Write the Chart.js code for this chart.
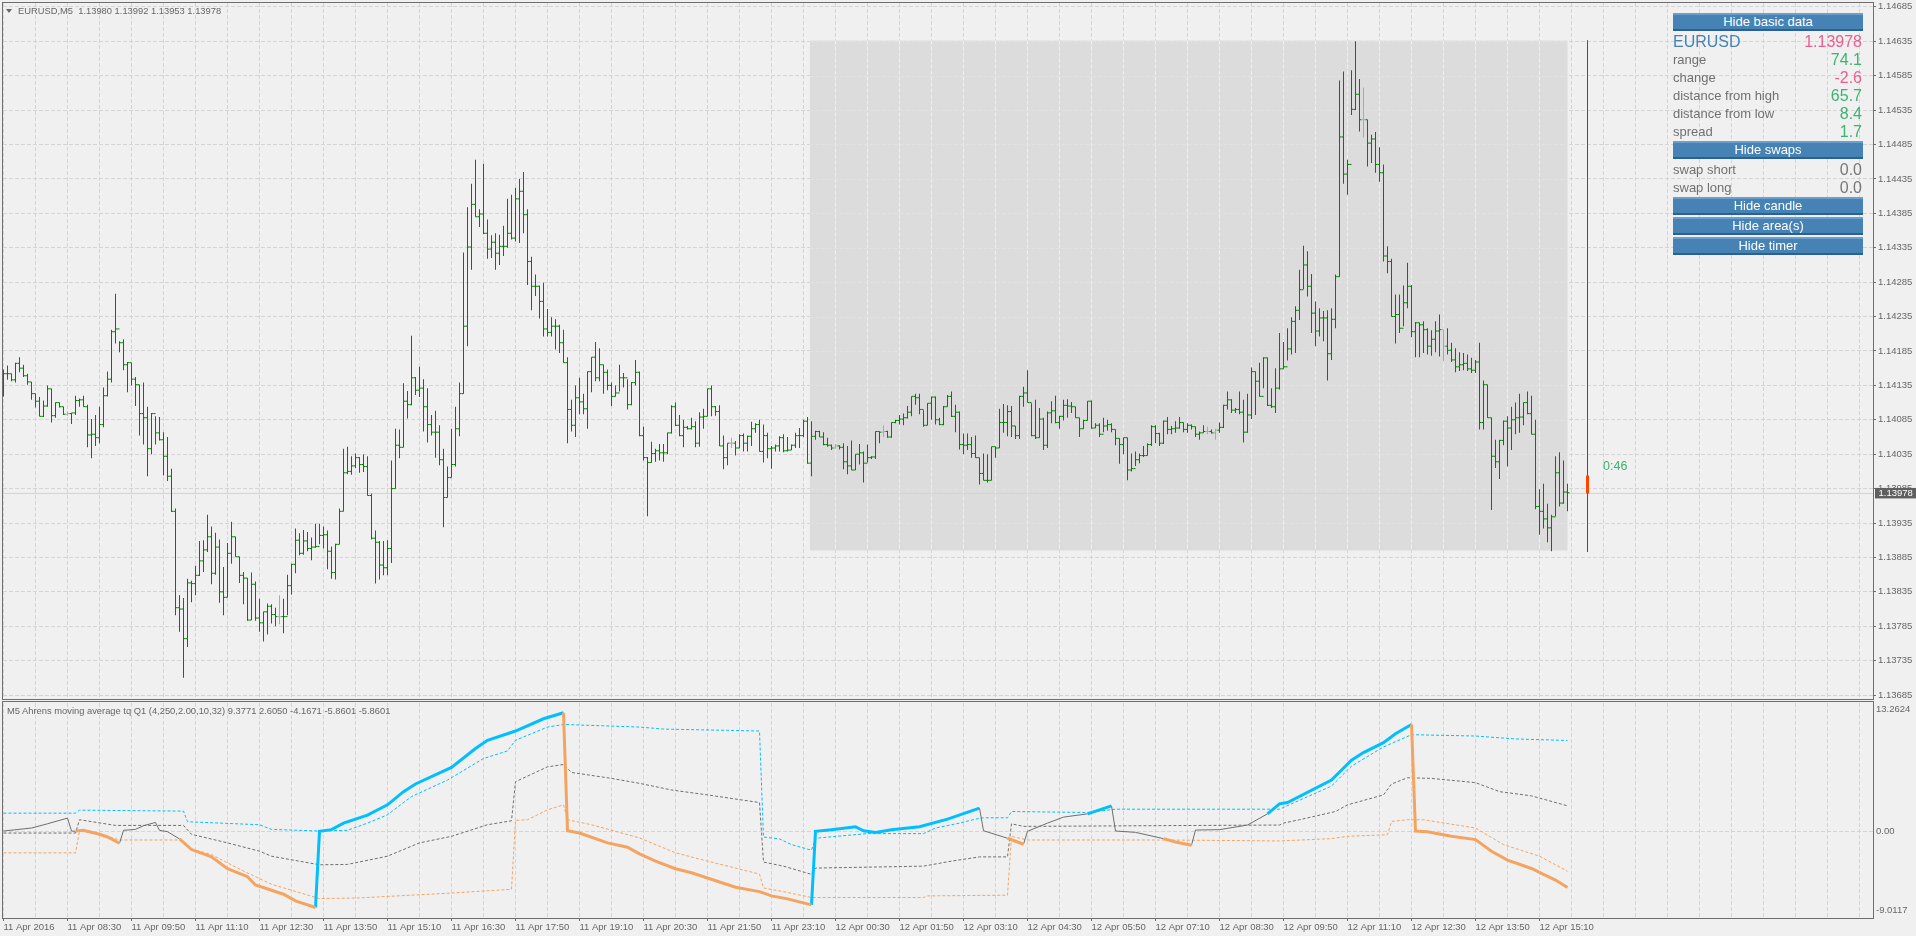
<!DOCTYPE html>
<html>
<head>
<meta charset="utf-8">
<title>EURUSD,M5</title>
<script src="https://cdn.jsdelivr.net/npm/chart.js@4"></script>
<style>
    html, body { margin: 0; padding: 0; width: 1916px; height: 936px; overflow: hidden; background: #f0f0f0; font-family: "Liberation Sans", Arial, sans-serif; }
    canvas { position: absolute; left: 0; }
    #priceCanvas { top: 0; }
    #indicatorCanvas { top: 700px; }
    .frame { position: absolute; left: 2px; width: 1872px; box-sizing: border-box; border: 1px solid #6e6e6e; }
    .title { position: absolute; font-size: 9.35px; line-height: 12px; color: #666; white-space: pre; }
    .arrow { position: absolute; left: 6px; top: 9px; width: 0; height: 0; border-left: 3.5px solid transparent; border-right: 3.5px solid transparent; border-top: 4px solid #666; }
    .btn { position: absolute; left: 1673px; width: 190px; height: 18px; box-sizing: border-box; background: #4682b4; border-top: 2px solid #6a9fd0; border-bottom: 2px solid #2a6096; color: #fff; font-size: 13px; line-height: 14px; text-align: center; }
    .row { position: absolute; left: 1673px; width: 189px; height: 18px; line-height: 18px; color: #707070; font-size: 13px; }
    .row b { position: absolute; right: 0; top: 0; font-weight: normal; font-size: 16px; }
    .up { color: #3cb371; }
    .down { color: #e8608c; }
    .flat { color: #777; }
    #timer { position: absolute; left: 1603px; top: 459px; font-size: 12.5px; line-height: 14px; color: #3cb371; }
</style>
</head>
<body>
<div class="frame" style="top:2px;height:698px"></div>
<div class="frame" style="top:701px;height:218px"></div>
<canvas id="priceCanvas" width="1916" height="700"></canvas>
<canvas id="indicatorCanvas" width="1916" height="236"></canvas>

<div class="arrow"></div>
<div class="title" style="left:18px;top:5px">EURUSD,M5  1.13980 1.13992 1.13953 1.13978</div>
<div class="title" style="left:7px;top:705px">M5 Ahrens moving average tq Q1 (4,250,2.00,10,32) 9.3771 2.6050 -4.1671 -5.8601 -5.8601</div>

<div class="btn" style="top:13px">Hide basic data</div>
<div class="row" style="top:33px;color:#4682b4;font-size:16px">EURUSD<b class="down">1.13978</b></div>
<div class="row" style="top:51px">range<b class="up">74.1</b></div>
<div class="row" style="top:69px">change<b class="down">-2.6</b></div>
<div class="row" style="top:87px">distance from high<b class="up">65.7</b></div>
<div class="row" style="top:105px">distance from low<b class="up">8.4</b></div>
<div class="row" style="top:123px">spread<b class="up">1.7</b></div>
<div class="btn" style="top:141px">Hide swaps</div>
<div class="row" style="top:161px">swap short<b class="flat">0.0</b></div>
<div class="row" style="top:179px">swap long<b class="flat">0.0</b></div>
<div class="btn" style="top:197px">Hide candle</div>
<div class="btn" style="top:217px">Hide area(s)</div>
<div class="btn" style="top:237px">Hide timer</div>
<div id="timer">0:46</div>

<script>
// 5 minute bars, oldest first
const highs = [
1.14158,1.14164,1.14152,1.14168,1.14176,1.14165,1.14152,1.14140,1.14123,1.14118,1.14113,1.14135,1.14130,1.14110,1.14110,1.14104,
1.14097,1.14095,1.14120,1.14116,1.14120,1.14107,1.14086,1.14092,1.14104,1.14132,1.14155,1.14216,1.14268,1.14199,1.14202,1.14169,
1.14168,1.14147,1.14136,1.14139,1.14104,1.14095,1.14090,1.14089,1.14067,1.14060,1.14014,1.13956,1.13830,1.13826,1.13854,1.13851,
1.13873,1.13909,1.13910,1.13947,1.13930,1.13921,1.13911,1.13871,1.13906,1.13937,1.13915,1.13886,1.13864,1.13855,1.13863,1.13850,
1.13825,1.13806,1.13818,1.13817,1.13812,1.13830,1.13825,1.13860,1.13876,1.13927,1.13920,1.13925,1.13922,1.13914,1.13934,1.13934,
1.13930,1.13924,1.13901,1.13905,1.13956,1.14043,1.14046,1.14032,1.14036,1.14031,1.14035,1.14032,1.13978,1.13924,1.13909,1.13909,
1.13910,1.14026,1.14072,1.14071,1.14138,1.14127,1.14207,1.14147,1.14162,1.14144,1.14131,1.14092,1.14098,1.14077,1.14043,1.14017,
1.14072,1.14104,1.14139,1.14328,1.14394,1.14428,1.14463,1.14391,1.14457,1.14376,1.14353,1.14356,1.14354,1.14367,1.14406,1.14412,
1.14422,1.14435,1.14445,1.14391,1.14322,1.14296,1.14280,1.14284,1.14246,1.14234,1.14231,1.14223,1.14216,1.14176,1.14114,1.14135,
1.14146,1.14123,1.14155,1.14176,1.14198,1.14189,1.14165,1.14158,1.14139,1.14135,1.14165,1.14153,1.14144,1.14140,1.14172,1.14155,
1.14075,1.14031,1.14053,1.14043,1.14050,1.14050,1.14066,1.14106,1.14110,1.14092,1.14085,1.14076,1.14088,1.14083,1.14096,1.14101,
1.14130,1.14135,1.14105,1.14106,1.14062,1.14051,1.14059,1.14054,1.14064,1.14065,1.14062,1.14082,1.14080,1.14085,1.14078,1.14066,
1.14047,1.14049,1.14061,1.14064,1.14060,1.14049,1.14066,1.14073,1.14085,1.14089,1.14083,1.14069,1.14069,1.14067,1.14059,1.14049,
1.14050,1.14048,1.14051,1.14047,1.14055,1.14035,1.14050,1.14039,1.14049,1.14032,1.14068,1.14068,1.14077,1.14069,1.14081,1.14085,
1.14092,1.14094,1.14105,1.14119,1.14123,1.14123,1.14099,1.14109,1.14119,1.14119,1.14088,1.14105,1.14121,1.14126,1.14107,1.14097,
1.14065,1.14065,1.14060,1.14062,1.14030,1.14036,1.14035,1.14046,1.14046,1.14101,1.14108,1.14106,1.14105,1.14076,1.14120,1.14133,
1.14157,1.14109,1.14114,1.14102,1.14088,1.14097,1.14112,1.14120,1.14091,1.14114,1.14115,1.14111,1.14104,1.14088,1.14085,1.14112,
1.14113,1.14080,1.14080,1.14088,1.14085,1.14080,1.14071,1.14058,1.14059,1.14059,1.14036,1.14039,1.14036,1.14047,1.14051,1.14077,
1.14077,1.14066,1.14084,1.14089,1.14076,1.14083,1.14089,1.14081,1.14080,1.14078,1.14075,1.14068,1.14077,1.14075,1.14071,1.14072,
1.14081,1.14107,1.14126,1.14115,1.14102,1.14126,1.14114,1.14123,1.14161,1.14155,1.14168,1.14176,1.14175,1.14131,1.14160,1.14211,
1.14198,1.14218,1.14234,1.14250,1.14303,1.14338,1.14330,1.14297,1.14257,1.14247,1.14243,1.14244,1.14247,1.14296,1.14578,1.14591,
1.14463,1.14593,1.14635,1.14580,1.14568,1.14521,1.14499,1.14503,1.14481,1.14456,1.14337,1.14319,1.14267,1.14267,1.14280,1.14313,
1.14281,1.14227,1.14226,1.14228,1.14218,1.14215,1.14228,1.14238,1.14216,1.14218,1.14197,1.14189,1.14183,1.14182,1.14180,1.14175,
1.14172,1.14197,1.14142,1.14136,1.14088,1.14056,1.14056,1.14084,1.14090,1.14104,1.14110,1.14123,1.14110,1.14126,1.14120,1.14085,
1.13984,1.13992,1.13963,1.13947,1.14032,1.14038,1.14026,1.13992];
const lows = [
1.14119,1.14143,1.14141,1.14139,1.14154,1.14147,1.14136,1.14114,1.14103,1.14090,1.14089,1.14104,1.14081,1.14088,1.14103,1.14092,
1.14091,1.14079,1.14092,1.14104,1.14104,1.14045,1.14029,1.14047,1.14051,1.14074,1.14119,1.14139,1.14196,1.14183,1.14157,1.14125,
1.14135,1.14105,1.14062,1.14049,1.14003,1.14035,1.14049,1.14055,1.14004,1.13996,1.13951,1.13801,1.13777,1.13710,1.13755,1.13820,
1.13830,1.13858,1.13864,1.13893,1.13846,1.13860,1.13819,1.13801,1.13827,1.13876,1.13886,1.13848,1.13817,1.13793,1.13794,1.13793,
1.13777,1.13763,1.13773,1.13789,1.13785,1.13788,1.13775,1.13801,1.13831,1.13862,1.13888,1.13889,1.13894,1.13881,1.13899,1.13904,
1.13898,1.13868,1.13854,1.13853,1.13904,1.13952,1.14006,1.14005,1.14015,1.14008,1.14009,1.13975,1.13911,1.13847,1.13853,1.13859,
1.13859,1.13877,1.13985,1.14029,1.14045,1.14087,1.14106,1.14121,1.14118,1.14068,1.14052,1.14062,1.14030,1.14019,1.13929,1.13972,
1.14001,1.14017,1.14061,1.14123,1.14192,1.14303,1.14380,1.14365,1.14355,1.14319,1.14320,1.14303,1.14310,1.14323,1.14335,1.14347,
1.14344,1.14342,1.14356,1.14281,1.14244,1.14265,1.14232,1.14206,1.14206,1.14206,1.14187,1.14182,1.14168,1.14051,1.14068,1.14060,
1.14093,1.14093,1.14072,1.14125,1.14141,1.14141,1.14123,1.14128,1.14105,1.14119,1.14126,1.14132,1.14100,1.14106,1.14135,1.14061,
1.14026,1.13945,1.14023,1.14024,1.14026,1.14024,1.14035,1.14065,1.14076,1.14061,1.14045,1.14071,1.14071,1.14045,1.14046,1.14072,
1.14090,1.14090,1.14091,1.14047,1.14013,1.14019,1.14044,1.14033,1.14044,1.14039,1.14039,1.14047,1.14066,1.14039,1.14023,1.14029,
1.14014,1.14039,1.14039,1.14038,1.14039,1.14041,1.14044,1.14044,1.14060,1.14021,1.14003,1.14056,1.14060,1.14048,1.14046,1.14041,
1.14043,1.14042,1.14013,1.14006,1.14012,1.14012,1.14020,1.13994,1.14023,1.14028,1.14028,1.14051,1.14060,1.14059,1.14059,1.14080,
1.14078,1.14077,1.14087,1.14090,1.14107,1.14093,1.14075,1.14077,1.14085,1.14078,1.14077,1.14077,1.14104,1.14089,1.14067,1.14042,
1.14035,1.14041,1.14030,1.14030,1.13991,1.13997,1.13994,1.13997,1.14030,1.14044,1.14066,1.14061,1.14060,1.14057,1.14057,1.14104,
1.14110,1.14061,1.14057,1.14059,1.14041,1.14044,1.14080,1.14080,1.14072,1.14084,1.14088,1.14095,1.14088,1.14060,1.14072,1.14084,
1.14072,1.14073,1.14060,1.14067,1.14069,1.14067,1.14048,1.14021,1.14035,1.13997,1.14010,1.14018,1.14022,1.14031,1.14033,1.14047,
1.14051,1.14047,1.14050,1.14064,1.14064,1.14066,1.14072,1.14067,1.14066,1.14071,1.14060,1.14056,1.14066,1.14064,1.14065,1.14056,
1.14066,1.14073,1.14100,1.14095,1.14095,1.14093,1.14052,1.14066,1.14086,1.14092,1.14119,1.14131,1.14105,1.14102,1.14095,1.14129,
1.14159,1.14171,1.14180,1.14182,1.14230,1.14275,1.14264,1.14211,1.14192,1.14206,1.14199,1.14142,1.14172,1.14218,1.14293,1.14428,
1.14412,1.14528,1.14535,1.14504,1.14495,1.14453,1.14458,1.14444,1.14431,1.14315,1.14298,1.14235,1.14196,1.14211,1.14221,1.14247,
1.14205,1.14176,1.14176,1.14182,1.14180,1.14178,1.14183,1.14177,1.14170,1.14180,1.14169,1.14154,1.14156,1.14157,1.14156,1.14153,
1.14153,1.14071,1.14071,1.14088,1.13954,1.14015,1.13999,1.14048,1.14017,1.14041,1.14064,1.14066,1.14077,1.14093,1.14064,1.13955,
1.13918,1.13927,1.13907,1.13894,1.13945,1.13959,1.13963,1.13952];
const closes = [
1.14152,1.14152,1.14143,1.14167,1.14160,1.14149,1.14140,1.14123,1.14112,1.14090,1.14105,1.14130,1.14091,1.14110,1.14104,1.14093,
1.14094,1.14095,1.14113,1.14114,1.14104,1.14063,1.14064,1.14059,1.14078,1.14120,1.14144,1.14213,1.14217,1.14197,1.14165,1.14168,
1.14144,1.14136,1.14094,1.14088,1.14043,1.14094,1.14066,1.14056,1.14032,1.14003,1.13952,1.13812,1.13810,1.13767,1.13848,1.13847,
1.13859,1.13880,1.13896,1.13915,1.13862,1.13900,1.13835,1.13827,1.13891,1.13915,1.13886,1.13859,1.13855,1.13794,1.13846,1.13797,
1.13790,1.13806,1.13814,1.13802,1.13799,1.13799,1.13799,1.13844,1.13875,1.13910,1.13891,1.13909,1.13898,1.13900,1.13901,1.13917,
1.13918,1.13894,1.13863,1.13904,1.13952,1.14008,1.14010,1.14018,1.14030,1.14020,1.14017,1.13975,1.13913,1.13907,1.13874,1.13870,
1.13898,1.13985,1.14048,1.14045,1.14112,1.14107,1.14146,1.14128,1.14131,1.14104,1.14078,1.14067,1.14067,1.14027,1.13972,1.14001,
1.14020,1.14072,1.14123,1.14221,1.14336,1.14398,1.14380,1.14384,1.14356,1.14333,1.14343,1.14327,1.14337,1.14337,1.14356,1.14349,
1.14406,1.14417,1.14383,1.14315,1.14279,1.14279,1.14257,1.14217,1.14212,1.14221,1.14221,1.14197,1.14168,1.14100,1.14077,1.14117,
1.14111,1.14101,1.14155,1.14176,1.14146,1.14165,1.14154,1.14135,1.14119,1.14124,1.14146,1.14146,1.14107,1.14139,1.14154,1.14062,
1.14030,1.14023,1.14036,1.14040,1.14037,1.14037,1.14066,1.14104,1.14077,1.14062,1.14074,1.14072,1.14075,1.14051,1.14089,1.14090,
1.14130,1.14104,1.14097,1.14047,1.14030,1.14051,1.14051,1.14044,1.14062,1.14051,1.14061,1.14072,1.14078,1.14039,1.14062,1.14043,
1.14044,1.14047,1.14059,1.14040,1.14041,1.14048,1.14062,1.14062,1.14083,1.14022,1.14061,1.14068,1.14060,1.14049,1.14048,1.14044,
1.14047,1.14045,1.14024,1.14018,1.14012,1.14035,1.14037,1.14022,1.14030,1.14031,1.14068,1.14067,1.14068,1.14060,1.14081,1.14084,
1.14086,1.14088,1.14096,1.14119,1.14117,1.14100,1.14077,1.14109,1.14118,1.14085,1.14078,1.14104,1.14119,1.14090,1.14096,1.14049,
1.14048,1.14049,1.14036,1.14030,1.14007,1.13997,1.13997,1.14046,1.14044,1.14081,1.14081,1.14097,1.14076,1.14062,1.14119,1.14124,
1.14110,1.14062,1.14059,1.14086,1.14048,1.14095,1.14098,1.14081,1.14090,1.14106,1.14105,1.14104,1.14088,1.14072,1.14084,1.14112,
1.14073,1.14077,1.14064,1.14076,1.14078,1.14071,1.14058,1.14049,1.14059,1.14012,1.14014,1.14027,1.14033,1.14033,1.14049,1.14075,
1.14065,1.14051,1.14083,1.14071,1.14072,1.14073,1.14081,1.14071,1.14077,1.14075,1.14064,1.14066,1.14068,1.14068,1.14066,1.14070,
1.14074,1.14106,1.14114,1.14099,1.14100,1.14096,1.14067,1.14092,1.14155,1.14141,1.14119,1.14175,1.14106,1.14104,1.14131,1.14159,
1.14162,1.14188,1.14228,1.14244,1.14274,1.14310,1.14279,1.14240,1.14214,1.14233,1.14233,1.14181,1.14231,1.14293,1.14496,1.14442,
1.14456,1.14536,1.14558,1.14521,1.14521,1.14487,1.14493,1.14456,1.14444,1.14323,1.14315,1.14235,1.14238,1.14218,1.14255,1.14279,
1.14213,1.14226,1.14223,1.14216,1.14192,1.14202,1.14214,1.14216,1.14192,1.14186,1.14172,1.14162,1.14165,1.14167,1.14159,1.14157,
1.14169,1.14081,1.14136,1.14088,1.14032,1.14024,1.14055,1.14083,1.14073,1.14085,1.14088,1.14089,1.14110,1.14094,1.14064,1.13959,
1.13952,1.13941,1.13928,1.13944,1.14008,1.13964,1.13980,1.13979];
const opens = [
1.14120,1.14152,1.14152,1.14143,1.14167,1.14160,1.14149,1.14140,1.14123,1.14112,1.14090,1.14105,1.14130,1.14091,1.14110,1.14104,
1.14093,1.14094,1.14095,1.14113,1.14114,1.14104,1.14063,1.14064,1.14059,1.14078,1.14120,1.14144,1.14213,1.14217,1.14197,1.14165,
1.14168,1.14144,1.14136,1.14094,1.14088,1.14043,1.14094,1.14066,1.14056,1.14032,1.14003,1.13952,1.13812,1.13810,1.13767,1.13848,
1.13847,1.13859,1.13880,1.13896,1.13915,1.13862,1.13900,1.13835,1.13827,1.13891,1.13915,1.13886,1.13859,1.13855,1.13794,1.13846,
1.13797,1.13790,1.13806,1.13814,1.13802,1.13799,1.13799,1.13799,1.13844,1.13875,1.13910,1.13891,1.13909,1.13898,1.13900,1.13901,
1.13917,1.13918,1.13894,1.13863,1.13904,1.13952,1.14008,1.14010,1.14018,1.14030,1.14020,1.14017,1.13975,1.13913,1.13907,1.13874,
1.13870,1.13898,1.13985,1.14048,1.14045,1.14112,1.14107,1.14146,1.14128,1.14131,1.14104,1.14078,1.14067,1.14067,1.14027,1.13972,
1.14001,1.14020,1.14072,1.14123,1.14221,1.14336,1.14398,1.14380,1.14384,1.14356,1.14333,1.14343,1.14327,1.14337,1.14337,1.14356,
1.14349,1.14406,1.14417,1.14383,1.14315,1.14279,1.14279,1.14257,1.14217,1.14212,1.14221,1.14221,1.14197,1.14168,1.14100,1.14077,
1.14117,1.14111,1.14101,1.14155,1.14176,1.14146,1.14165,1.14154,1.14135,1.14119,1.14124,1.14146,1.14146,1.14107,1.14139,1.14154,
1.14062,1.14030,1.14023,1.14036,1.14040,1.14037,1.14037,1.14066,1.14104,1.14077,1.14062,1.14074,1.14072,1.14075,1.14051,1.14089,
1.14090,1.14130,1.14104,1.14097,1.14047,1.14030,1.14051,1.14051,1.14044,1.14062,1.14051,1.14061,1.14072,1.14078,1.14039,1.14062,
1.14043,1.14044,1.14047,1.14059,1.14040,1.14041,1.14048,1.14062,1.14062,1.14083,1.14022,1.14061,1.14068,1.14060,1.14049,1.14048,
1.14044,1.14047,1.14045,1.14024,1.14018,1.14012,1.14035,1.14037,1.14022,1.14030,1.14031,1.14068,1.14067,1.14068,1.14060,1.14081,
1.14084,1.14086,1.14088,1.14096,1.14119,1.14117,1.14100,1.14077,1.14109,1.14118,1.14085,1.14078,1.14104,1.14119,1.14090,1.14096,
1.14049,1.14048,1.14049,1.14036,1.14030,1.14007,1.13997,1.13997,1.14046,1.14044,1.14081,1.14081,1.14097,1.14076,1.14062,1.14119,
1.14124,1.14110,1.14062,1.14059,1.14086,1.14048,1.14095,1.14098,1.14081,1.14090,1.14106,1.14105,1.14104,1.14088,1.14072,1.14084,
1.14112,1.14073,1.14077,1.14064,1.14076,1.14078,1.14071,1.14058,1.14049,1.14059,1.14012,1.14014,1.14027,1.14033,1.14033,1.14049,
1.14075,1.14065,1.14051,1.14083,1.14071,1.14072,1.14073,1.14081,1.14071,1.14077,1.14075,1.14064,1.14066,1.14068,1.14068,1.14066,
1.14070,1.14074,1.14106,1.14114,1.14099,1.14100,1.14096,1.14067,1.14092,1.14155,1.14141,1.14119,1.14175,1.14106,1.14104,1.14131,
1.14159,1.14162,1.14188,1.14228,1.14244,1.14274,1.14310,1.14279,1.14240,1.14214,1.14233,1.14233,1.14181,1.14231,1.14293,1.14496,
1.14442,1.14456,1.14536,1.14558,1.14521,1.14521,1.14487,1.14493,1.14456,1.14444,1.14323,1.14315,1.14235,1.14238,1.14218,1.14255,
1.14279,1.14213,1.14226,1.14223,1.14216,1.14192,1.14202,1.14214,1.14216,1.14192,1.14186,1.14172,1.14162,1.14165,1.14167,1.14159,
1.14157,1.14169,1.14081,1.14136,1.14088,1.14032,1.14024,1.14055,1.14083,1.14073,1.14085,1.14088,1.14089,1.14110,1.14094,1.14064,
1.13959,1.13952,1.13941,1.13928,1.13944,1.14008,1.13964,1.13980];
const grayBars = [16,69,182,208,220,301,303,340,360];

// price axis, current bar and day range
const priceTicks = [1.14685,1.14635,1.14585,1.14535,1.14485,1.14435,1.14385,1.14335,1.14285,1.14235,1.14185,1.14135,1.14085,1.14035,1.13985,1.13935,1.13885,1.13835,1.13785,1.13735,1.13685];
const lastPrice = 1.13978;
const timerBar = 396;
const timerCandle = [1.13978, 1.14004];
const dayHigh = 1.14636;
const dayLow = 1.13895;
const dayStartBar = 201.6;
const dayEndBar = 391;

const timeLabels = ['11 Apr 2016','11 Apr 08:30','11 Apr 09:50','11 Apr 11:10','11 Apr 12:30','11 Apr 13:50','11 Apr 15:10','11 Apr 16:30','11 Apr 17:50','11 Apr 19:10','11 Apr 20:30','11 Apr 21:50','11 Apr 23:10','12 Apr 00:30','12 Apr 01:50','12 Apr 03:10','12 Apr 04:30','12 Apr 05:50','12 Apr 07:10','12 Apr 08:30','12 Apr 09:50','12 Apr 11:10','12 Apr 12:30','12 Apr 13:50','12 Apr 15:10'];

// indicator, [bar, value] read at the turning points, null breaks a line
const mainLine = [[0,0],[7,.31],[11,.75],[16,1.34],[17,0],[18,-.03],[19,null],
    [29,-1.27],[30,.07],[33,.17],[35,.55],[38,.89],[39,.07],[41,-.07],[44,-.82],[45,null],
    [244,2.37],[245,.03],[251,-.75],[252,null],
    [255,-1.37],[256,-.03],[261,.82],[265,1.44],[271,1.78],[272,null],
    [277,2.61],[278,0],[283,-.14],[290,-.79],[291,null],
    [297,-1.47],[298,.10],[304,.14],[311,.62],[316,1.78]];
const fallingLine = [[18,0],[20,.07],[24,-.34],[26,-.62],[29,-1.27],[30,null],
    [44,-.82],[47,-1.92],[52,-2.68],[56,-3.91],[61,-4.73],[63,-5.59],[70,-6.55],[73,-7.24],[78,-7.92],[79,null],
    [140,12.25],[141,.03],[144,-.21],[151,-1.23],[156,-1.68],[159,-2.37],[163,-3.12],[168,-3.91],[172,-4.32],[183,-5.83],[189,-6.28],[192,-6.72],[196,-7.03],[202,-7.65],[203,null],
    [251,-.75],[255,-1.37],[256,null],
    [290,-.79],[293,-1.13],[297,-1.47],[298,null],
    [352,11.04],[353,0],[356,-.07],[362,-.55],[368,-.89],[372,-2.09],[376,-3.02],[382,-3.88],[385,-4.49],[388,-5.08],[391,-5.86]];
const risingLine = [[78,-7.92],[79,-.03],[82,.14],[85,.82],[91,1.65],[96,2.71],[100,4.08],[103,4.87],[112,6.59],[118,8.54],[121,9.40],[128,10.36],[135,11.63],[140,12.25],[141,null],
    [202,-7.65],[203,-.03],[207,.14],[213,.45],[215,.03],[218,-.14],[222,.14],[229,.45],[236,1.23],[244,2.37],[245,null],
    [271,1.78],[277,2.61],[278,null],
    [316,1.78],[319,2.81],[321,2.95],[332,5.28],[337,7.34],[340,8.13],[345,9.16],[348,10.08],[352,11.04]];
const upperBand = [[0,1.85],[18,1.85],[19,2.16],[45,2.06],[46,.96],[64,.65],[67,.17],[79,0],[86,.07],[91,.82],[96,1.68],[102,3.57],[111,5.28],[120,7.51],[126,8.30],[128,9.40],[136,10.77],[140,11.04],[159,10.77],
    [165,10.56],[181,10.43],[189,10.36],[190,-.62],[194,-.82],[197,-1.41],[202,-1.99],[203,-.75],[212,-.41],[216,-.27],[230,-.27],[233,.31],[239,.82],[243,1.23],[245,1.37],[251,1.37],[252,2.02],[271,1.92],[278,2.26],[319,2.26],
    [332,4.66],[337,6.72],[345,8.71],[352,9.98],[368,9.84],[378,9.54],[391,9.38]];
const middleBand = [[0,-.21],[18,-.21],[19,1.17],[28,.58],[45,.58],[47,-.34],[56,-1.23],[64,-2.09],[67,-2.61],[79,-3.50],[86,-3.46],[96,-2.61],[104,-1.23],[112,-.55],[121,.65],[127,1.06],[128,5.11],[136,6.65],[140,6.89],[142,6.07],[152,5.45],[159,4.94],
    [167,4.25],[176,3.74],[189,2.95],[190,-3.22],[195,-3.64],[202,-4.49],[203,-3.84],[230,-3.64],[237,-3.12],[244,-2.68],[251,-2.68],[252,.75],[255,.48],[319,.62],
    [320,.82],[324,1.17],[333,2.02],[336,2.71],[345,3.74],[347,4.87],[351,5.52],[357,5.45],[368,5.01],[374,4.08],[382,3.64],[391,2.61]];
const lowerBand = [[0,-2.26],[18,-2.26],[19,-.03],[24,-.27],[29,-.93],[44,-.93],[47,-1.85],[52,-2.44],[60,-4.15],[67,-5.52],[79,-7.00],[89,-6.93],[111,-6.45],[127,-6.04],[128,1.10],[131,1.17],[136,2.20],[140,2.71],[141,1.17],[147,.65],[159,-.72],
    [168,-2.26],[176,-3.12],[189,-4.46],[190,-5.90],[195,-6.28],[202,-6.89],[230,-6.89],[231,-6.72],[251,-6.65],[252,-.55],[256,-.93],[290,-.93],[319,-1.03],
    [332,-.79],[336,-.55],[346,-.38],[347,.99],[351,1.17],[355,1.17],[368,.31],[375,-1.41],[384,-2.61],[391,-4.17]];
const indicatorMax = 13.2624;
const indicatorMin = -9.0117;
const indicatorLabels = ['13.2624','0.00','-9.0117'];
const indicatorLabelAt = [12.6,0,-8.25];

const gridColor = '#d5d5d5';
const tickFont = { family: '"Liberation Sans", Arial, sans-serif', size: 9.5 };
const barAt = values => values.map((v, i) => ({ x: i, y: v }));
const pairs = list => list.map(p => ({ x: p[0], y: p[1] }));
const barColor = ctx => grayBars.includes(ctx.dataIndex) ? '#aaaaaa' : '#008000';

function timeAxis(withLabels) {
    return {
        type: 'linear',
        offset: false,
        min: -0.125,
        max: 467.375,
        afterBuildTicks: scale => {
            const ticks = [];
            for (let v = 0; v <= 464; v += 8) ticks.push({ value: v });
            scale.ticks = ticks;
        },
        afterFit: scale => {
            scale.height = withLabels ? 18 : 0;
            scale.paddingLeft = 0;
            scale.paddingRight = 0;
        },
        border: { display: false, dash: [4, 2] },
        grid: {
            offset: false,
            color: gridColor,
            drawTicks: withLabels,
            tickLength: 3,
            tickColor: ctx => (ctx.tick && ctx.tick.value % 16 === 0 && ctx.tick.value <= 384) ? '#6e6e6e' : 'transparent'
        },
        ticks: {
            display: withLabels,
            autoSkip: false,
            maxRotation: 0,
            align: 'start',
            padding: 1,
            color: '#666',
            font: tickFont,
            callback: v => timeLabels[v / 16] || ''
        }
    };
}

// y axes keep their full height, labels may reach the edge of the pane
function fixedAxisWidth(scale) {
    scale.width = 43;
    scale.paddingTop = 0;
    scale.paddingBottom = 0;
}

const dayArea = {
    id: 'dayArea',
    beforeDatasetsDraw(chart) {
        const { ctx, scales: { x, y } } = chart;
        const left = x.getPixelForValue(dayStartBar), right = x.getPixelForValue(dayEndBar);
        const top = y.getPixelForValue(dayHigh), bottom = y.getPixelForValue(dayLow);
        ctx.save();
        ctx.fillStyle = '#dcdcdc';
        ctx.fillRect(left, top, right - left, bottom - top);
        ctx.lineWidth = 1;
        ctx.setLineDash([4, 2]);
        // grid shows through the area: pale columns, faint rows
        ctx.strokeStyle = '#f0f0f0';
        x.ticks.forEach(t => {
            const px = Math.floor(x.getPixelForValue(t.value)) + 0.5;
            if (px > left && px < right) {
                ctx.beginPath(); ctx.moveTo(px, top); ctx.lineTo(px, bottom); ctx.stroke();
            }
        });
        ctx.strokeStyle = '#e2e2e2';
        priceTicks.forEach(v => {
            const py = Math.round(y.getPixelForValue(v)) + 0.5;
            if (py > top && py < bottom) {
                ctx.beginPath(); ctx.moveTo(left, py); ctx.lineTo(right, py); ctx.stroke();
            }
        });
        ctx.restore();
    },
    afterDraw(chart) {
        const { ctx, chartArea, scales: { y } } = chart;
        const py = y.getPixelForValue(lastPrice);
        ctx.save();
        ctx.fillStyle = '#5f5f5f';
        ctx.fillRect(chartArea.right + 2, py - 5.5, 41, 10.5);
        ctx.fillStyle = '#ffffff';
        ctx.font = '9.5px "Liberation Sans", Arial, sans-serif';
        ctx.textBaseline = 'middle';
        ctx.fillText(lastPrice.toFixed(5), chartArea.right + 5.5, py);
        ctx.restore();
    }
};

new Chart(document.getElementById('priceCanvas'), {
    type: 'bar',
    plugins: [dayArea],
    data: {
        datasets: [
            { type: 'line', data: [{ x: -1, y: lastPrice }, { x: 470, y: lastPrice }], borderColor: '#d2d2d2', borderWidth: 1, pointRadius: 0, order: 6 },
            { type: 'line', data: [{ x: timerBar, y: dayHigh }, { x: timerBar, y: 1.13893 }], borderColor: '#d2143c', borderWidth: 1, pointRadius: 0, order: 4 },
            { type: 'bar', data: [{ x: timerBar, y: timerCandle }], backgroundColor: '#ff4500', barThickness: 3, grouped: false, inflateAmount: 0, order: 3 },
            { type: 'bar', data: highs.map((h, i) => ({ x: i, y: [lows[i], h] })), backgroundColor: barColor, barThickness: 1, grouped: false, inflateAmount: 0, order: 2 },
            { type: 'scatter', data: barAt(opens), showLine: false, pointStyle: 'dash', pointRotation: 180, pointRadius: 2, pointBorderWidth: 1, pointBorderColor: barColor, order: 1 },
            { type: 'scatter', data: barAt(closes), showLine: false, pointStyle: 'dash', pointRadius: 2, pointBorderWidth: 1, pointBorderColor: barColor, order: 1 }
        ]
    },
    options: {
        responsive: false,
        devicePixelRatio: 1,
        animation: false,
        events: [],
        layout: { autoPadding: false, padding: { left: 3, right: 0, top: 3, bottom: 1 } },
        plugins: { legend: { display: false }, tooltip: { enabled: false } },
        scales: {
            x: timeAxis(false),
            y: {
                position: 'right',
                min: 1.136793,
                max: 1.146906,
                afterBuildTicks: scale => { scale.ticks = priceTicks.map(v => ({ value: v })); },
                afterFit: fixedAxisWidth,
                border: { display: false, dash: [4, 2] },
                grid: { color: gridColor, tickLength: 3, tickColor: '#6e6e6e' },
                ticks: { padding: 2, color: '#666', font: tickFont, autoSkip: false, callback: v => v.toFixed(5) }
            }
        }
    }
});

const dottedBand = (list, color) => ({ data: pairs(list), borderColor: color, borderWidth: 1, borderDash: [3, 2], pointRadius: 0, order: 3 });

new Chart(document.getElementById('indicatorCanvas'), {
    type: 'line',
    data: {
        datasets: [
            dottedBand(upperBand, '#00bfff'),
            dottedBand(middleBand, '#6e6e6e'),
            dottedBand(lowerBand, '#f4a460'),
            { data: pairs(mainLine), borderColor: '#6e6e6e', borderWidth: 1, pointRadius: 0, order: 2 },
            { data: pairs(fallingLine), borderColor: '#f4a460', borderWidth: 3, pointRadius: 0, order: 1 },
            { data: pairs(risingLine), borderColor: '#00bfff', borderWidth: 3, pointRadius: 0, order: 1 }
        ]
    },
    options: {
        responsive: false,
        devicePixelRatio: 1,
        animation: false,
        events: [],
        layout: { autoPadding: false, padding: { left: 3, right: 0, top: 3, bottom: 0 } },
        plugins: { legend: { display: false }, tooltip: { enabled: false } },
        scales: {
            x: timeAxis(true),
            y: {
                position: 'right',
                min: indicatorMin,
                max: indicatorMax,
                afterBuildTicks: scale => { scale.ticks = indicatorLabelAt.map(v => ({ value: v })); },
                afterFit: fixedAxisWidth,
                border: { display: false, dash: [4, 2] },
                grid: {
                    color: ctx => ctx.tick && ctx.tick.value === 0 ? gridColor : 'transparent',
                    tickLength: 3,
                    tickColor: 'transparent'
                },
                ticks: {
                    padding: 0,
                    color: '#666',
                    font: tickFont,
                    autoSkip: false,
                    callback: v => indicatorLabels[indicatorLabelAt.indexOf(v)]
                }
            }
        }
    }
});
</script>
</body>
</html>
